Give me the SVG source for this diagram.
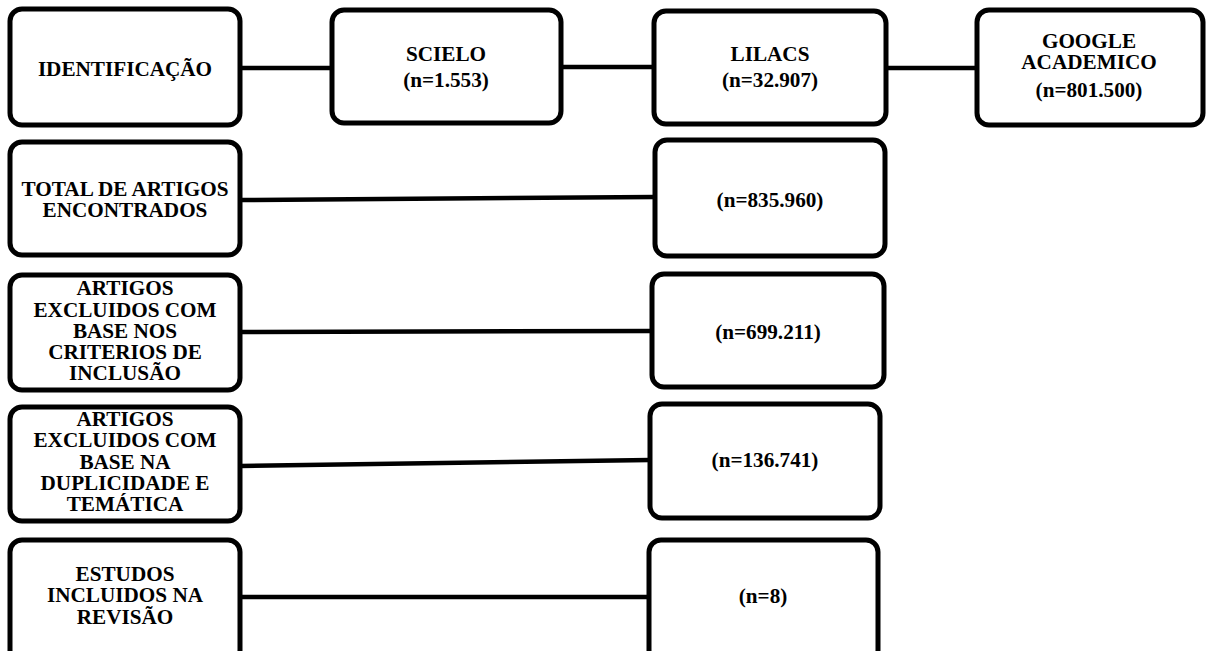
<svg xmlns="http://www.w3.org/2000/svg" width="1208" height="651" viewBox="0 0 1208 651">
<style>
.box{fill:#fff;stroke:#000;stroke-width:5}
.t{font-family:"Liberation Serif","Times New Roman",serif;font-weight:bold;font-size:21.2px;text-anchor:middle;fill:#000}
.c{stroke:#000;stroke-width:4.5;fill:none}
</style>
<rect width="1208" height="651" fill="#fff"/>
<g id="connectors">
<line class="c" x1="240" y1="68" x2="332" y2="68"/>
<line class="c" x1="561" y1="67" x2="654" y2="67"/>
<line class="c" x1="886" y1="68" x2="977" y2="68"/>
<line class="c" x1="240" y1="200" x2="655" y2="197"/>
<line class="c" x1="240" y1="332" x2="652" y2="331"/>
<line class="c" x1="240" y1="466" x2="650" y2="460"/>
<line class="c" x1="240" y1="597" x2="649" y2="597"/>
</g>
<g id="identificacao">
<rect class="box" x="10" y="9" width="230" height="116" rx="12"/>
<text class="t" x="125" y="76">IDENTIFICAÇÃO</text>
</g>
<g id="scielo">
<rect class="box" x="332" y="10" width="229" height="113" rx="12"/>
<text class="t" x="446" y="61">SCIELO</text>
<text class="t" x="446" y="87">(n=1.553)</text>
</g>
<g id="lilacs">
<rect class="box" x="654" y="11" width="232" height="113" rx="12"/>
<text class="t" x="770" y="61">LILACS</text>
<text class="t" x="770" y="87">(n=32.907)</text>
</g>
<g id="google">
<rect class="box" x="977" y="10" width="226" height="115" rx="12"/>
<text class="t" x="1089" y="48">GOOGLE</text>
<text class="t" x="1089" y="69">ACADEMICO</text>
<text class="t" x="1089" y="97">(n=801.500)</text>
</g>
<g id="total">
<rect class="box" x="10" y="142" width="230" height="113" rx="12"/>
<text class="t" x="125" y="196">TOTAL DE ARTIGOS</text>
<text class="t" x="125" y="217">ENCONTRADOS</text>
</g>
<g id="total-n">
<rect class="box" x="655" y="140" width="230" height="116" rx="12"/>
<text class="t" x="770" y="207">(n=835.960)</text>
</g>
<g id="excl-criterios">
<rect class="box" x="10" y="275" width="230" height="115" rx="12"/>
<text class="t" x="125" y="295">ARTIGOS</text>
<text class="t" x="125" y="317">EXCLUIDOS COM</text>
<text class="t" x="125" y="338">BASE NOS</text>
<text class="t" x="125" y="359">CRITERIOS DE</text>
<text class="t" x="125" y="380">INCLUSÃO</text>
</g>
<g id="excl-criterios-n">
<rect class="box" x="652" y="274" width="232" height="113" rx="12"/>
<text class="t" x="768" y="339">(n=699.211)</text>
</g>
<g id="excl-duplicidade">
<rect class="box" x="10" y="407" width="230" height="114" rx="12"/>
<text class="t" x="125" y="426">ARTIGOS</text>
<text class="t" x="125" y="447">EXCLUIDOS COM</text>
<text class="t" x="125" y="469">BASE NA</text>
<text class="t" x="125" y="490">DUPLICIDADE E</text>
<text class="t" x="125" y="511">TEMÁTICA</text>
</g>
<g id="excl-duplicidade-n">
<rect class="box" x="650" y="404" width="230" height="114" rx="12"/>
<text class="t" x="765" y="467">(n=136.741)</text>
</g>
<g id="incluidos">
<rect class="box" x="10" y="540" width="230" height="122" rx="12"/>
<text class="t" x="125" y="581">ESTUDOS</text>
<text class="t" x="125" y="602">INCLUIDOS NA</text>
<text class="t" x="125" y="624">REVISÃO</text>
</g>
<g id="incluidos-n">
<rect class="box" x="649" y="540" width="229" height="122" rx="12"/>
<text class="t" x="763" y="603">(n=8)</text>
</g>
</svg>
